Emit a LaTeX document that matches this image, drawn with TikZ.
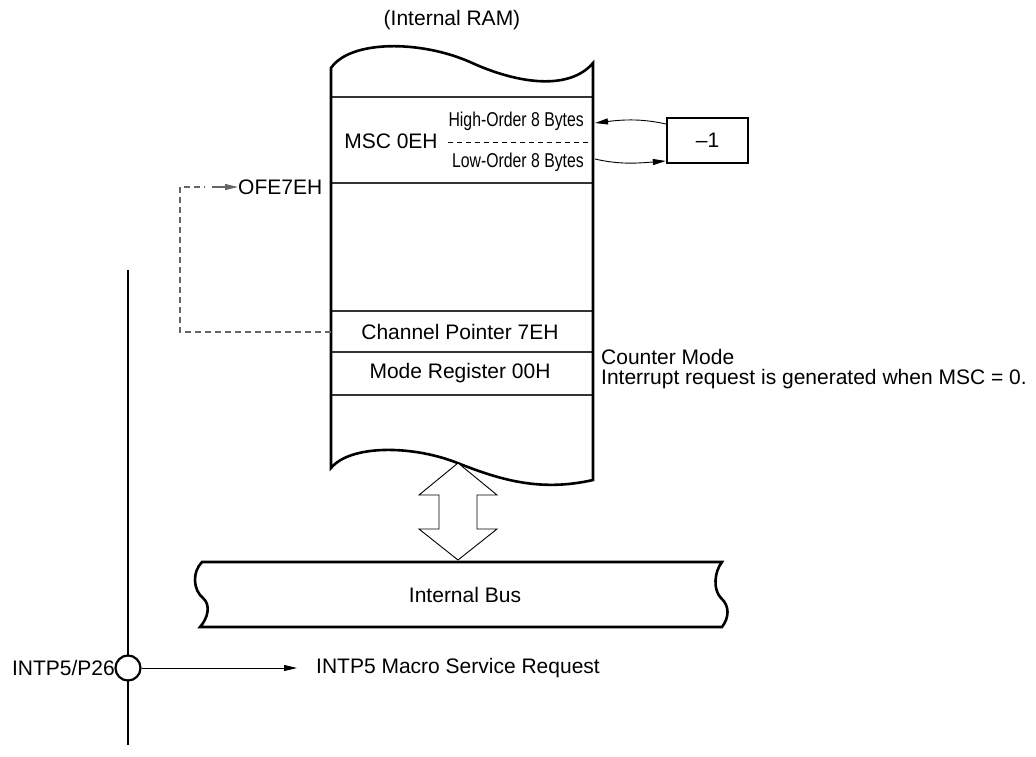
\documentclass[tikz,border=0pt]{standalone}
\usepackage{fontspec}
\setmainfont{Liberation Sans}
\newfontfamily\narrowfont[FakeStretch=0.79]{Liberation Sans}
\usetikzlibrary{arrows.meta}
\tikzset{
  txt/.style={inner sep=0pt, font=\fontsize{21}{25}\selectfont},
  smalltxt/.style={inner sep=0pt, font=\narrowfont\fontsize{20}{24}\selectfont},
  thickline/.style={line width=2.6pt, line join=miter},
  rowline/.style={line width=1.3pt, black!80},
  thin/.style={line width=0.9pt},
  dashgray/.style={line width=1.2pt, black!60, dash pattern=on 6pt off 4pt},
  tip/.style={-{Stealth[length=13pt,width=6pt,inset=0pt]}},
}
\begin{document}
\begin{tikzpicture}[x=1pt,y=-1pt]
\useasboundingbox (0,0) rectangle (1036,756);

% title
\node[txt] (title) at (452,20) {(Internal RAM)};

% RAM column
\coordinate (ramTL) at (331,68);
\coordinate (ramTR) at (593,63);
\coordinate (ramBL) at (331,468);
\coordinate (ramBR) at (593,480);
\draw[rowline] (331,97) -- (593,97);
\draw[rowline] (331,183) -- (593,183);
\draw[rowline] (331,311) -- (593,311);
\draw[rowline] (331,352) -- (593,352);
\draw[rowline] (331,395) -- (593,395);
\draw[thickline] (ramTL) .. controls (350,40) and (420,40) .. (470,62)
   .. controls (520,85) and (570,90) .. (ramTR) -- (ramBR)
   .. controls (540,492) and (500,480) .. (455,462)
   .. controls (410,445) and (350,445) .. (ramBL) -- cycle;

% MSC row
\node[txt] (msc) at (391,141) {MSC 0EH};
\node[smalltxt, anchor=east] (high) at (584,121) {High-Order 8 Bytes};
\node[smalltxt, anchor=east] (low) at (584,162) {Low-Order 8 Bytes};
\coordinate (dashL) at (448,142);
\coordinate (dashR) at (592,142);
\draw[thin, dash pattern=on 5pt off 4pt] (dashL) -- (dashR);

% -1 box
\node[draw, line width=2.4pt, minimum width=81pt, minimum height=45pt, inner sep=0pt, font=\fontsize{21}{25}\selectfont] (dec) at (707.5,140.5) {\textendash1};
\coordinate (hiIn) at (595,123);
\coordinate (loOut) at (595,159);
\draw[thin, tip] (dec.west |- 0,124) .. controls (640,118) and (620,120) .. (hiIn);
\draw[thin, tip] (loOut) .. controls (620,165) and (640,163) .. (dec.west |- 0,161);

% OFE7EH
\node[txt, anchor=west] (ofe) at (238,187) {OFE7EH};
\coordinate (cpL) at (331,332);
\coordinate (c1) at (180,332);
\coordinate (c2) at (180,187);
\draw[dashgray] (cpL) -- (c1) -- (c2) -- (205,187);
\draw[line width=1.2pt, black!60, tip] (212,187) -- (ofe.west);

% register rows
\node[txt] (cp) at (460,332) {Channel Pointer 7EH};
\node[txt] (mode) at (460,373) {Mode Register 00H};
\node[txt, anchor=west] (cm1) at (601,357) {Counter Mode};
\node[txt, anchor=west] (cm2) at (601,379) {Interrupt request is generated when MSC = 0.};

% double arrow
\draw[thin, fill=white] (458,463) -- (497,495) -- (477,495) -- (477,529) -- (497,529)
   -- (458,560) -- (419,529) -- (439,529) -- (439,495) -- (419,495) -- cycle;

% internal bus
\draw[thickline, fill=white] (202,562) -- (722,562)
   .. controls (714,572) and (713,590) .. (721,598)
   .. controls (730,606) and (729,618) .. (722,627) -- (200,627)
   .. controls (208,618) and (211,605) .. (203,598)
   .. controls (193,590) and (192,572) .. (202,562) -- cycle;
\node[txt] (bus) at (465,595) {Internal Bus};

% INTP5 pin
\coordinate (vtop) at (128,270);
\coordinate (vbot) at (128,745);
\draw[line width=2.4pt] (vtop) -- (vbot);
\node[draw, circle, line width=2.2pt, fill=white, minimum size=25pt, inner sep=0pt] (pin) at (128,668) {};
\node[txt, anchor=east] (pinlbl) at (115,668) {INTP5/P26};
\node[txt, anchor=west] (req) at (316,668) {INTP5 Macro Service Request};
\draw[thin, tip] (pin.east) -- (297,668);
\end{tikzpicture}
\end{document}
